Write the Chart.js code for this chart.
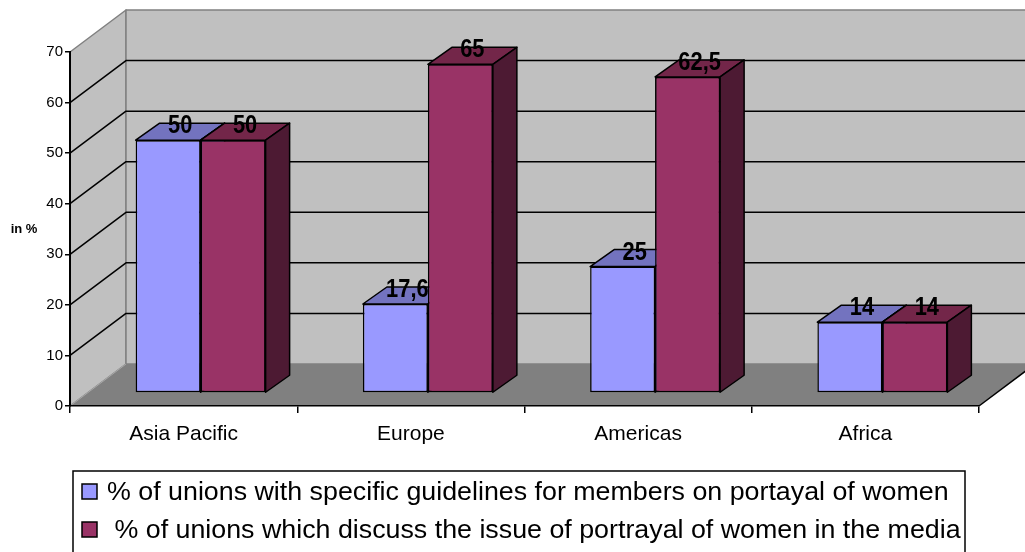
<!DOCTYPE html>
<html>
<head>
<meta charset="utf-8">
<script src="https://cdn.jsdelivr.net/npm/chart.js@4.4.1/dist/chart.umd.min.js"></script>
<style>
  html, body { margin: 0; padding: 0; background: #fff; }
  #wrap { width: 1025px; height: 552px; }
</style>
</head>
<body>
<div id="wrap"><canvas id="chart" width="1025" height="552"></canvas></div>
<script>
// data
const regions = ["Asia Pacific", "Europe", "Americas", "Africa"];
const guidelines = [50, 17.6, 25, 14];
const discuss = [50, 65, 62.5, 14];
const seriesNames = [
    "% of unions with specific guidelines for members on portayal of women",
    " % of unions which discuss the issue of portrayal of women in the media"
];
const yTicks = [0, 10, 20, 30, 40, 50, 60, 70];

// look
const FONT = "'Liberation Sans', Arial, sans-serif";
const frontColors = ["#9999ff", "#993366"];
const topColors = ["#7373bf", "#732649"];
const sideColors = ["#5c5c99", "#4d1a33"];

// 3d projection
const WALL = { dx: 56, dy: -42 };
const SHIFT = { dx: 17, dy: -13 };
const DEPTH = { dx: 24, dy: -17 };

function poly(ctx, pts, fill, stroke, width) {
    ctx.beginPath();
    ctx.moveTo(pts[0][0], pts[0][1]);
    for (let i = 1; i < pts.length; i++) ctx.lineTo(pts[i][0], pts[i][1]);
    ctx.closePath();
    if (fill) { ctx.fillStyle = fill; ctx.fill(); }
    if (stroke) { ctx.strokeStyle = stroke; ctx.lineWidth = width || 1; ctx.stroke(); }
}

const frame3d = {
    id: "frame3d",
    beforeDraw(chart) {
        const ctx = chart.ctx;
        const a = chart.chartArea;
        const y = chart.scales.y;
        const y0 = y.getPixelForValue(yTicks[0]);
        const yTop = y.getPixelForValue(yTicks[yTicks.length - 1]);
        const L = a.left, R = a.right;

        ctx.save();
        ctx.lineJoin = "round";

        // floor
        poly(ctx, [[L, y0], [R, y0], [R + WALL.dx, y0 + WALL.dy], [L + WALL.dx, y0 + WALL.dy]],
            "#808080", null);

        // left wall
        poly(ctx, [[L, y0], [L, yTop], [L + WALL.dx, yTop + WALL.dy], [L + WALL.dx, y0 + WALL.dy]],
            "#c0c0c0", "#808080", 1.5);

        // back wall
        poly(ctx, [[L + WALL.dx, yTop + WALL.dy], [R + WALL.dx, yTop + WALL.dy],
            [R + WALL.dx, y0 + WALL.dy], [L + WALL.dx, y0 + WALL.dy]],
            "#c0c0c0", "#808080", 1.5);

        // floor edges
        ctx.strokeStyle = "#a8a8a8";
        ctx.lineWidth = 1;
        ctx.beginPath();
        ctx.moveTo(L, y0);
        ctx.lineTo(L + WALL.dx, y0 + WALL.dy);
        ctx.stroke();
        ctx.strokeStyle = "#000";
        ctx.lineWidth = 1.5;
        ctx.beginPath();
        ctx.moveTo(R, y0);
        ctx.lineTo(R + WALL.dx, y0 + WALL.dy);
        ctx.stroke();

        // gridlines on the walls
        ctx.strokeStyle = "#000";
        ctx.lineWidth = 1.5;
        yTicks.slice(1, -1).forEach(v => {
            const py = y.getPixelForValue(v);
            ctx.beginPath();
            ctx.moveTo(L, py);
            ctx.lineTo(L + WALL.dx, py + WALL.dy);
            ctx.lineTo(R + WALL.dx, py + WALL.dy);
            ctx.stroke();
        });

        // axis title
        ctx.fillStyle = "#000";
        ctx.font = "bold 13px " + FONT;
        ctx.textAlign = "center";
        ctx.textBaseline = "middle";
        ctx.fillText("in %", 24, (y0 + yTop) / 2);
        ctx.restore();
    }
};

function drawFaces(ctx, el, k) {
    const p = el.getProps(["x", "y", "base", "width"], true);
    const l = p.x - p.width / 2, r = p.x + p.width / 2;
    poly(ctx, [[l, p.y], [r, p.y], [r + DEPTH.dx, p.y + DEPTH.dy], [l + DEPTH.dx, p.y + DEPTH.dy]],
        topColors[k], "#000", 1.5);
    poly(ctx, [[r, p.y], [r + DEPTH.dx, p.y + DEPTH.dy], [r + DEPTH.dx, p.base + DEPTH.dy], [r, p.base]],
        sideColors[k], "#000", 1.5);
}

const bars3d = {
    id: "bars3d",
    beforeDatasetsDraw(chart) {
        chart.ctx.save();
        chart.ctx.translate(SHIFT.dx, SHIFT.dy);
    },
    afterDatasetsDraw(chart) {
        const ctx = chart.ctx;
        ctx.lineJoin = "round";
        const metas = [chart.getDatasetMeta(0).data, chart.getDatasetMeta(1).data];

        regions.forEach((r, i) => {
            drawFaces(ctx, metas[0][i], 0);
            metas[1][i].draw(ctx);
            drawFaces(ctx, metas[1][i], 1);
        });

        // value labels
        ctx.fillStyle = "#000";
        ctx.font = "bold 23px " + FONT;
        ctx.textAlign = "center";
        ctx.textBaseline = "middle";
        chart.data.datasets.forEach((ds, k) => {
            metas[k].forEach((el, i) => {
                const p = el.getProps(["x", "y"], true);
                const txt = String(ds.data[i]).replace(".", ",");
                ctx.save();
                ctx.translate(p.x + DEPTH.dx / 2, p.y + DEPTH.dy + 3);
                ctx.scale(0.95, 1.12);
                ctx.fillText(txt, 0, 0);
                ctx.restore();
            });
        });

        ctx.restore();
    }
};

const legendBox = {
    id: "legendBox",
    afterDraw(chart) {
        const ctx = chart.ctx;
        ctx.save();
        ctx.strokeStyle = "#000";
        ctx.lineWidth = 1.5;
        ctx.strokeRect(73, 471, 892, 100);

        chart.data.datasets.forEach((ds, k) => {
            const cy = 492 + k * 38;
            ctx.fillStyle = ds.backgroundColor;
            ctx.fillRect(82, cy - 8, 15, 15);
            ctx.strokeRect(82, cy - 8, 15, 15);

            ctx.save();
            ctx.translate(107, cy);
            ctx.scale(1.072, 1);
            ctx.fillStyle = "#000";
            ctx.font = "25px " + FONT;
            ctx.textAlign = "left";
            ctx.textBaseline = "middle";
            ctx.fillText(ds.label, 0, 1);
            ctx.restore();
        });
        ctx.restore();
    }
};

new Chart(
    document.getElementById("chart"),
    {
        type: "bar",

        data: {
            labels: regions,

            datasets: [
                {
                    label: seriesNames[0],
                    data: guidelines,
                    backgroundColor: frontColors[0],
                    borderColor: "#000",
                    borderWidth: 1.5,
                    borderSkipped: false,
                    clip: false
                },
                {
                    label: seriesNames[1],
                    data: discuss,
                    backgroundColor: frontColors[1],
                    borderColor: "#000",
                    borderWidth: 1.5,
                    borderSkipped: false,
                    clip: false
                }
            ]
        },

        options: {
            responsive: false,
            animation: false,
            devicePixelRatio: 1,

            datasets: {
                bar: {
                    categoryPercentage: 0.572,
                    barPercentage: 1.0
                }
            },

            layout: {
                padding: { left: 0, top: 52, right: 46, bottom: 106 }
            },

            plugins: {
                legend: { display: false },
                tooltip: { enabled: false }
            },

            scales: {
                x: {
                    grid: {
                        offset: true,
                        drawOnChartArea: false,
                        drawTicks: true,
                        tickLength: 7,
                        color: "#000",
                        lineWidth: 1.5
                    },
                    border: { color: "#000", width: 1.5 },
                    ticks: {
                        color: "#000",
                        padding: 9,
                        font: { family: FONT, size: 21 },
                        maxRotation: 0
                    },
                    afterFit(scale) { scale.height = 40; }
                },

                y: {
                    min: yTicks[0],
                    max: yTicks[yTicks.length - 1],
                    afterBuildTicks(scale) {
                        scale.ticks = yTicks.map(v => ({ value: v }));
                    },
                    grid: {
                        drawOnChartArea: false,
                        drawTicks: true,
                        tickLength: 5,
                        color: "#000",
                        lineWidth: 1.5
                    },
                    border: { color: "#000", width: 2 },
                    ticks: {
                        color: "#000",
                        padding: 2,
                        font: { family: FONT, size: 15 }
                    },
                    afterFit(scale) { scale.width = 70; }
                }
            }
        },

        plugins: [frame3d, bars3d, legendBox]
    }
);
</script>
</body>
</html>
